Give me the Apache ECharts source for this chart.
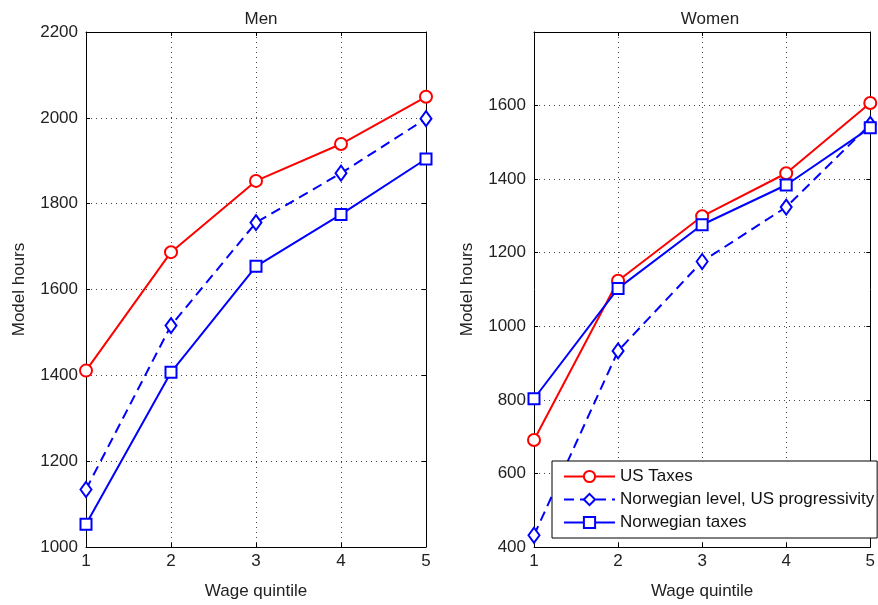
<!DOCTYPE html>
<html>
<head>
<meta charset="utf-8">
<script src="https://cdn.jsdelivr.net/npm/echarts@6/dist/echarts.min.js"></script>
<style>
  html, body { margin: 0; padding: 0; background: #fff; }
  #chart { width: 878px; height: 605px; }
</style>
</head>
<body>
<div id="chart"></div>
<script>
// wage quintiles
var quintiles = [1, 2, 3, 4, 5]
var seriesNames = ['US Taxes', 'Norwegian level, US progressivity', 'Norwegian taxes']

// Men
var menUs = [1411, 1687, 1853, 1939, 2049]
var menNorLevel = [1134, 1516, 1756, 1871, 1998]
var menNor = [1053, 1407, 1654, 1775, 1904]

// Women
var womenUs = [691, 1124, 1299, 1416, 1607]
var womenNorLevel = [432, 933, 1176, 1324, 1549]
var womenNor = [803, 1103, 1276, 1384, 1540]

function initHours() {
  let hoursChart = echarts.init(document.getElementById('chart'))
  var font = 'Liberation Sans, Arial, sans-serif'
  var fs = 17

  function pairs(vals) {
    return quintiles.map(function (q, i) {
      return [q, vals[i]]
    })
  }

  var gridLine = {
    show: true,
    lineStyle: { color: '#444', type: [1, 4], width: 1 },
  }

  function xAxes(gi) {
    return [
      {
        gridIndex: gi,
        type: 'value',
        min: 1,
        max: 5,
        interval: 1,
        name: 'Wage quintile',
        nameLocation: 'middle',
        nameGap: 36,
        nameTextStyle: { color: '#222', fontSize: fs, fontFamily: font },
        axisLine: { show: true, onZero: false, lineStyle: { color: '#000', width: 1 } },
        axisTick: { show: true, inside: true, length: 4, lineStyle: { color: '#000' } },
        axisLabel: { color: '#222', fontSize: fs, fontFamily: font, margin: 6 },
        splitLine: gridLine,
      },
      {
        gridIndex: gi,
        type: 'value',
        position: 'top',
        min: 1,
        max: 5,
        interval: 1,
        axisLine: { show: true, onZero: false, lineStyle: { color: '#000', width: 1 } },
        axisTick: { show: true, inside: true, length: 4, lineStyle: { color: '#000' } },
        axisLabel: { show: false },
        splitLine: { show: false },
      },
    ]
  }

  function yAxes(gi, min, max, hideTop) {
    return [
      {
        gridIndex: gi,
        type: 'value',
        min: min,
        max: max,
        interval: 200,
        name: 'Model hours',
        nameLocation: 'middle',
        nameGap: 58,
        nameTextStyle: { color: '#222', fontSize: fs, fontFamily: font },
        axisLine: { show: true, onZero: false, lineStyle: { color: '#000', width: 1 } },
        axisTick: { show: true, inside: true, length: 4, lineStyle: { color: '#000' } },
        axisLabel: {
          color: '#222',
          fontSize: fs,
          fontFamily: font,
          margin: 8,
          formatter: function (v) {
            return hideTop && v === max ? '' : String(v)
          },
        },
        splitLine: gridLine,
      },
      {
        gridIndex: gi,
        type: 'value',
        position: 'right',
        min: min,
        max: max,
        interval: 200,
        axisLine: { show: true, onZero: false, lineStyle: { color: '#000', width: 1 } },
        axisTick: { show: true, inside: true, length: 4, lineStyle: { color: '#000' } },
        axisLabel: { show: false },
        splitLine: { show: false },
      },
    ]
  }

  function lineSeries(name, vals, gi, color, symbol, dashed) {
    return {
      name: name,
      type: 'line',
      xAxisIndex: gi * 2,
      yAxisIndex: gi * 2,
      data: pairs(vals),
      symbol: symbol,
      symbolSize: symbol === 'emptyDiamond' ? [11, 15] : symbol === 'emptyCircle' ? 12 : 11,
      showAllSymbol: true,
      lineStyle: { color: color, width: 2, type: dashed ? [10, 6] : 'solid' },
      itemStyle: { color: color, borderColor: color, borderWidth: 2 },
      emphasis: { disabled: true },
      animation: false,
    }
  }

  var option = {
    backgroundColor: '#fff',
    animation: false,
    title: [
      {
        text: 'Men',
        left: 256,
        top: 6,
        textAlign: 'center',
        textStyle: { color: '#222', fontSize: fs, fontWeight: 'normal', fontFamily: font },
      },
      {
        text: 'Women',
        left: 705,
        top: 6,
        textAlign: 'center',
        textStyle: { color: '#222', fontSize: fs, fontWeight: 'normal', fontFamily: font },
      },
    ],
    legend: {
      data: seriesNames,
      orient: 'vertical',
      left: 552,
      top: 461,
      padding: [7, 3, 7, 11],
      itemGap: 6,
      itemWidth: 51,
      itemHeight: 14,
      backgroundColor: '#fff',
      borderColor: '#000',
      borderWidth: 1,
      borderRadius: 0,
      selectedMode: false,
      textStyle: { color: '#111', fontSize: fs, fontFamily: font },
    },
    grid: [
      { left: 86, top: 32, width: 340, height: 519 },
      { left: 534, top: 32, width: 341, height: 519 },
    ],
    xAxis: xAxes(0).concat(xAxes(1)),
    yAxis: yAxes(0, 1000, 2200, false).concat(yAxes(1, 400, 1800, true)),
    series: [
      lineSeries(seriesNames[0], menUs, 0, '#ff0000', 'emptyCircle', false),
      lineSeries(seriesNames[1], menNorLevel, 0, '#0000ff', 'emptyDiamond', true),
      lineSeries(seriesNames[2], menNor, 0, '#0000ff', 'emptyRect', false),
      lineSeries(seriesNames[0], womenUs, 1, '#ff0000', 'emptyCircle', false),
      lineSeries(seriesNames[1], womenNorLevel, 1, '#0000ff', 'emptyDiamond', true),
      lineSeries(seriesNames[2], womenNor, 1, '#0000ff', 'emptyRect', false),
    ],
  }
  hoursChart.setOption(option)

  window.addEventListener('resize', function () {
    hoursChart.resize()
  })
}

initHours()
</script>
</body>
</html>
